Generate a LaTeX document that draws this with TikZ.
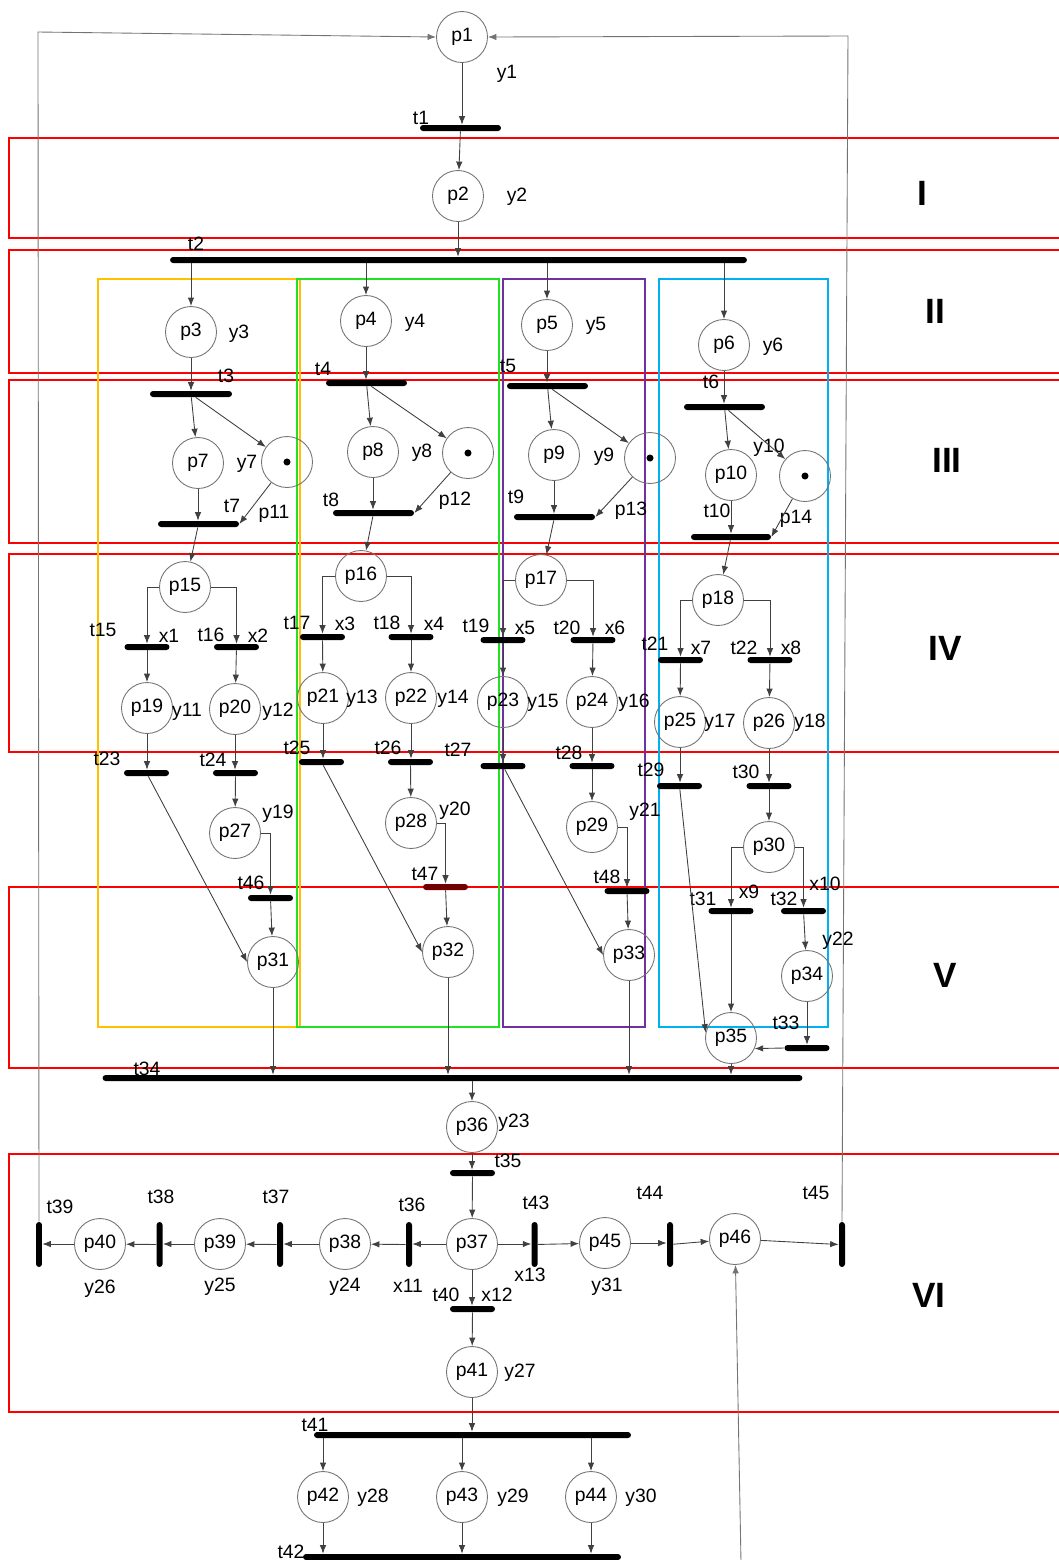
\documentclass[tikz,border=0pt]{standalone}
\usepackage{fontspec}
\setmainfont{Liberation Sans}
\usepackage{tikz}
\usetikzlibrary{arrows.meta}
\definecolor{grporange}{HTML}{FFC000}
\definecolor{grpgreen}{HTML}{22E022}
\definecolor{grppurple}{HTML}{7030A0}
\definecolor{grpblue}{HTML}{00B0F0}
\tikzset{
  place/.style={circle, draw=black!55, line width=0.5pt, minimum size=1.02cm, inner sep=0pt},
  trans/.style={fill=black, inner sep=0pt, rounded corners=0.06cm, minimum height=0.12cm, minimum width=0.9cm},
  vtrans/.style={fill=black, inner sep=0pt, rounded corners=0.06cm, minimum width=0.12cm, minimum height=0.9cm},
  arc/.style={draw=black!75, line width=0.5pt, -{Latex[length=1.7mm,width=1.3mm]}},
  band/.style={draw=red, line width=1.1pt},
  grp/.style={line width=1.1pt},
  sect/.style={font=\fontsize{20}{24}\selectfont\bfseries},
}
\begin{document}
\begin{tikzpicture}[x=0.02cm, y=-0.02cm, font=\fontsize{11}{13}\selectfont]
        \useasboundingbox (0,0) rectangle (1059,1560);
        \clip (0,0) rectangle (1059,1560);
        % sections
        \draw[band] (9,138) rectangle (1075,238);
        \draw[band] (9,250) rectangle (1075,373);
        \draw[band] (9,380) rectangle (1075,543);
        \draw[band] (9,554) rectangle (1075,752);
        \draw[band] (9,887) rectangle (1075,1068);
        \draw[band] (9,1154) rectangle (1075,1412);
        \node[sect] (s1) at (922,193) {I};
        \node[sect] (s2) at (935,311) {II};
        \node[sect] (s3) at (947,460) {III};
        \node[sect] (s4) at (945,648) {IV};
        \node[sect] (s5) at (945,975) {V};
        \node[sect] (s6) at (929,1295) {VI};
        % groups
        \draw[grp, draw=grporange] (98,279) rectangle (300,1027);
        \draw[grp, draw=grpgreen] (297,279) rectangle (499,1027);
        \draw[grp, draw=grppurple] (503,279) rectangle (645,1027);
        \draw[grp, draw=grpblue] (659,279) rectangle (828,1027);
        % places
        \node[place] (p1) at (462,37) {p1};
        \node[place] (p2) at (458,196) {p2};
        \node[place] (p3) at (191,332) {p3};
        \node[place] (p4) at (366,321) {p4};
        \node[place] (p5) at (547,325) {p5};
        \node[place] (p6) at (724,345) {p6};
        \node[place] (p7) at (198,463) {p7};
        \node[place] (p8) at (373,452) {p8};
        \node[place] (p9) at (554,455) {p9};
        \node[place] (p10) at (731,475) {p10};
        \node[place] (p11) at (287,462) {};
        \node[place] (p12) at (468,453) {};
        \node[place] (p13) at (650,458) {};
        \node[place] (p14) at (805,476) {};
        \fill (p11.center) circle (2pt);
        \fill (p12.center) circle (2pt);
        \fill (p13.center) circle (2pt);
        \fill (p14.center) circle (2pt);
        \node[place] (p15) at (185,587) {p15};
        \node[place] (p16) at (361,576) {p16};
        \node[place] (p17) at (541,580) {p17};
        \node[place] (p18) at (718,600) {p18};
        \node[place] (p19) at (147,708) {p19};
        \node[place] (p20) at (235,709) {p20};
        \node[place] (p21) at (323,698) {p21};
        \node[place] (p22) at (411,698) {p22};
        \node[place] (p23) at (503,702) {p23};
        \node[place] (p24) at (592,702) {p24};
        \node[place] (p25) at (680,722) {p25};
        \node[place] (p26) at (769,723) {p26};
        \node[place] (p27) at (235,833) {p27};
        \node[place] (p28) at (411,823) {p28};
        \node[place] (p29) at (592,827) {p29};
        \node[place] (p30) at (769,847) {p30};
        \node[place] (p31) at (273,962) {p31};
        \node[place] (p32) at (448,952) {p32};
        \node[place] (p33) at (629,955) {p33};
        \node[place] (p34) at (807,976) {p34};
        \node[place] (p35) at (731,1038) {p35};
        \node[place] (p36) at (472,1127) {p36};
        \node[place] (p37) at (472,1244) {p37};
        \node[place] (p38) at (345,1244) {p38};
        \node[place] (p39) at (220,1244) {p39};
        \node[place] (p40) at (100,1244) {p40};
        \node[place] (p41) at (472,1372) {p41};
        \node[place] (p42) at (323,1497) {p42};
        \node[place] (p43) at (462,1497) {p43};
        \node[place] (p44) at (591,1497) {p44};
        \node[place] (p45) at (605,1243) {p45};
        \node[place] (p46) at (735,1239) {p46};
        % transitions
        \node[trans, minimum width=1.62cm] (t1) at (460.5,128) {};
        \node[trans, minimum width=11.54cm] (t2) at (458.5,260) {};
        \node[trans, minimum width=1.64cm] (t3) at (191,394) {};
        \node[trans, minimum width=1.62cm] (t4) at (366.5,383) {};
        \node[trans, minimum width=1.62cm] (t5) at (547.5,386) {};
        \node[trans, minimum width=1.62cm] (t6) at (724.5,407) {};
        \node[trans, minimum width=1.62cm] (t7) at (198.5,524) {};
        \node[trans, minimum width=1.62cm] (t8) at (373.5,513) {};
        \node[trans, minimum width=1.62cm] (t9) at (554.5,517) {};
        \node[trans, minimum width=1.6cm] (t10) at (731,537) {};
        \node[trans] (t15) at (147,647) {};
        \node[trans] (t16) at (236.5,647) {};
        \node[trans] (t17) at (322.5,637) {};
        \node[trans] (t18) at (411,637) {};
        \node[trans] (t19) at (503,640) {};
        \node[trans] (t20) at (593,640) {};
        \node[trans] (t21) at (680.5,660) {};
        \node[trans] (t22) at (770,660) {};
        \node[trans] (t23) at (146.5,773) {};
        \node[trans] (t24) at (235.5,773) {};
        \node[trans] (t25) at (321.5,762) {};
        \node[trans] (t26) at (410.5,762) {};
        \node[trans] (t27) at (503,766) {};
        \node[trans] (t28) at (592,766) {};
        \node[trans] (t29) at (679.5,786) {};
        \node[trans] (t30) at (769,786) {};
        \node[trans] (t31) at (731,911) {};
        \node[trans] (t32) at (803.5,911) {};
        \node[trans] (t33) at (807,1048) {};
        \node[trans, minimum width=14cm] (t34) at (452.5,1078) {};
        \node[trans] (t35) at (472.5,1173) {};
        \node[vtrans] (t36) at (409,1244.5) {};
        \node[vtrans] (t37) at (280,1244.5) {};
        \node[vtrans] (t38) at (159.6,1244.5) {};
        \node[vtrans] (t39) at (39,1244.5) {};
        \node[trans] (t40) at (472.5,1309) {};
        \node[trans, minimum width=6.34cm] (t41) at (472.5,1435) {};
        \node[trans, minimum width=6.36cm] (t42) at (462,1557) {};
        \node[vtrans] (t43) at (534.6,1244.5) {};
        \node[vtrans] (t44) at (670,1244.5) {};
        \node[vtrans] (t45) at (842,1244.5) {};
        \node[trans] (t46) at (270.5,898) {};
        \node[trans, fill=red!45!black] (t47) at (445.5,887) {};
        \node[trans] (t48) at (627,891) {};
        % labels
        \node (lt1) at (421,118) {t1};
        \node (lt2) at (196,244) {t2};
        \node (lt3) at (226,376) {t3};
        \node (lt4) at (323,369) {t4};
        \node (lt5) at (508,366) {t5};
        \node (lt6) at (711,382) {t6};
        \node (lt7) at (232,506) {t7};
        \node (lt8) at (331,500) {t8};
        \node (lt9) at (516,497) {t9};
        \node (lt10) at (717,511) {t10};
        \node (lt15) at (103,630) {t15};
        \node (lt16) at (211,635) {t16};
        \node (lt17) at (297,623) {t17};
        \node (lt18) at (387,623) {t18};
        \node (lt19) at (476,626) {t19};
        \node (lt20) at (567,628) {t20};
        \node (lt21) at (655,644) {t21};
        \node (lt22) at (744,648) {t22};
        \node (lt23) at (107,759) {t23};
        \node (lt24) at (213,760) {t24};
        \node (lt25) at (297,748) {t25};
        \node (lt26) at (388,748) {t26};
        \node (lt27) at (458,750) {t27};
        \node (lt28) at (569,753) {t28};
        \node (lt29) at (651,770) {t29};
        \node (lt30) at (746,772) {t30};
        \node (lt31) at (703,899) {t31};
        \node (lt32) at (784,899) {t32};
        \node (lt33) at (786,1023) {t33};
        \node (lt34) at (147,1069) {t34};
        \node (lt35) at (508,1161) {t35};
        \node (lt36) at (412,1205) {t36};
        \node (lt37) at (276,1197) {t37};
        \node (lt38) at (161,1197) {t38};
        \node (lt39) at (60,1207) {t39};
        \node (lt40) at (446,1295) {t40};
        \node (lt41) at (315,1425) {t41};
        \node (lt42) at (291,1552) {t42};
        \node (lt43) at (536,1203) {t43};
        \node (lt44) at (650,1193) {t44};
        \node (lt45) at (816,1193) {t45};
        \node (lt46) at (251,883) {t46};
        \node (lt47) at (425,874) {t47};
        \node (lt48) at (607,877) {t48};
        \node (lp11) at (274,514) {p11};
        \node (lp12) at (455,501) {p12};
        \node (lp13) at (631,511) {p13};
        \node (lp14) at (796,519) {p14};
        \node (y1) at (507,74) {y1};
        \node (y2) at (517,197) {y2};
        \node (y3) at (239,334) {y3};
        \node (y4) at (415,323) {y4};
        \node (y5) at (596,326) {y5};
        \node (y6) at (773,347) {y6};
        \node (y7) at (247,464) {y7};
        \node (y8) at (422,453) {y8};
        \node (y9) at (604,457) {y9};
        \node (y10) at (769,448) {y10};
        \node (y11) at (187,712) {y11};
        \node (y12) at (278,712) {y12};
        \node (y13) at (362,699) {y13};
        \node (y14) at (453,699) {y14};
        \node (y15) at (543,703) {y15};
        \node (y16) at (634,703) {y16};
        \node (y17) at (720,723) {y17};
        \node (y18) at (810,723) {y18};
        \node (y19) at (278,814) {y19};
        \node (y20) at (455,811) {y20};
        \node (y21) at (645,812) {y21};
        \node (y22) at (838,941) {y22};
        \node (y23) at (514,1123) {y23};
        \node (y24) at (345,1287) {y24};
        \node (y25) at (220,1287) {y25};
        \node (y26) at (100,1289) {y26};
        \node (y27) at (520,1373) {y27};
        \node (y28) at (373,1498) {y28};
        \node (y29) at (513,1498) {y29};
        \node (y30) at (641,1498) {y30};
        \node (y31) at (607,1287) {y31};
        \node (x1) at (169,636) {x1};
        \node (x2) at (258,636) {x2};
        \node (x3) at (345,624) {x3};
        \node (x4) at (434,624) {x4};
        \node (x5) at (525,628) {x5};
        \node (x6) at (615,628) {x6};
        \node (x7) at (701,648) {x7};
        \node (x8) at (791,648) {x8};
        \node (x9) at (749,892) {x9};
        \node (x10) at (825,884) {x10};
        \node (x11) at (408,1286) {x11};
        \node (x12) at (497,1295) {x12};
        \node (x13) at (530,1275) {x13};
        % arcs
        \draw[arc] (p1) -- (p1 |- t1.north);
        \draw[arc] (t1) -- (p2);
        \draw[arc] (p2) -- (p2 |- t2.north);
        \draw[arc] (p3 |- t2.south) -- (p3);
        \draw[arc] (p4 |- t2.south) -- (p4);
        \draw[arc] (p5 |- t2.south) -- (p5);
        \draw[arc] (p6 |- t2.south) -- (p6);
        \draw[arc] (p3) -- (p3 |- t3.north);
        \draw[arc] (t3) -- (p7);
        \draw[arc] (t3) -- (p11);
        \draw[arc] (p7) -- (p7 |- t7.north);
        \draw[arc] (p11) -- (t7.east);
        \draw[arc] (t7) -- (p15);
        \draw[arc] (p4) -- (p4 |- t4.north);
        \draw[arc] (t4) -- (p8);
        \draw[arc] (t4) -- (p12);
        \draw[arc] (p8) -- (p8 |- t8.north);
        \draw[arc] (p12) -- (t8.east);
        \draw[arc] (t8) -- (p16);
        \draw[arc] (p5) -- (p5 |- t5.north);
        \draw[arc] (t5) -- (p9);
        \draw[arc] (t5) -- (p13);
        \draw[arc] (p9) -- (p9 |- t9.north);
        \draw[arc] (p13) -- (t9.east);
        \draw[arc] (t9) -- (p17);
        \draw[arc] (p6) -- (p6 |- t6.north);
        \draw[arc] (t6) -- (p10);
        \draw[arc] (t6) -- (p14);
        \draw[arc] (p10) -- (p10 |- t10.north);
        \draw[arc] (p14) -- (t10.east);
        \draw[arc] (t10) -- (p18);
        \draw[arc] (p15.west) -| (t15.north);
        \draw[arc] (p15.east) -| (t16.north);
        \draw[arc] (t15) -- (p19);
        \draw[arc] (t16) -- (p20);
        \draw[arc] (p19) -- (p19 |- t23.north);
        \draw[arc] (p20) -- (p20 |- t24.north);
        \draw[arc] (t24) -- (p27);
        \draw[arc] (p27.east) -| (t46.north);
        \draw[arc] (t46) -- (p31);
        \draw[arc] (t23) -- (p31.west);
        \draw[arc] (p16.west) -| (t17.north);
        \draw[arc] (p16.east) -| (t18.north);
        \draw[arc] (t17) -- (p21);
        \draw[arc] (t18) -- (p22);
        \draw[arc] (p21) -- (p21 |- t25.north);
        \draw[arc] (p22) -- (p22 |- t26.north);
        \draw[arc] (t26) -- (p28);
        \draw[arc] (p28.east) -| (t47.north);
        \draw[arc] (t47) -- (p32);
        \draw[arc] (t25) -- (p32.west);
        \draw[arc] (p17.west) -| (t19.north);
        \draw[arc] (p17.east) -| (t20.north);
        \draw[arc] (t19) -- (p23);
        \draw[arc] (t20) -- (p24);
        \draw[arc] (p23) -- (p23 |- t27.north);
        \draw[arc] (p24) -- (p24 |- t28.north);
        \draw[arc] (t28) -- (p29);
        \draw[arc] (p29.east) -| (t48.north);
        \draw[arc] (t48) -- (p33);
        \draw[arc] (t27) -- (p33.west);
        \draw[arc] (p18.west) -| (t21.north);
        \draw[arc] (p18.east) -| (t22.north);
        \draw[arc] (t21) -- (p25);
        \draw[arc] (t22) -- (p26);
        \draw[arc] (p25) -- (p25 |- t29.north);
        \draw[arc] (p26) -- (p26 |- t30.north);
        \draw[arc] (t30) -- (p30);
        \draw[arc] (p30.west) -| (t31.north);
        \draw[arc] (p30.east) -| (t32.north);
        \draw[arc] (t31) -- (p35);
        \draw[arc] (t32) -- (p34);
        \draw[arc] (p34) -- (p34 |- t33.north);
        \draw[arc] (t33.west) -- (p35.-24);
        \draw[arc] (t29) -- (p35.168);
        \draw[arc] (p31) -- (p31 |- t34.north);
        \draw[arc] (p32) -- (p32 |- t34.north);
        \draw[arc] (p33) -- (p33 |- t34.north);
        \draw[arc] (p35) -- (p35 |- t34.north);
        \draw[arc] (p36 |- t34.south) -- (p36);
        \draw[arc] (p36) -- (p36 |- t35.north);
        \draw[arc] (t35) -- (p37);
        \draw[arc] (p37) -- (p37 -| t36.east);
        \draw[arc] (t36) -- (p38);
        \draw[arc] (p38) -- (p38 -| t37.east);
        \draw[arc] (t37) -- (p39);
        \draw[arc] (p39) -- (p39 -| t38.east);
        \draw[arc] (t38) -- (p40);
        \draw[arc] (p40) -- (p40 -| t39.east);
        \draw[arc] (p37) -- (p37 |- t40.north);
        \draw[arc] (t40) -- (p41);
        \draw[arc] (p41) -- (p41 |- t41.north);
        \draw[arc] (p42 |- t41.south) -- (p42);
        \draw[arc] (p43 |- t41.south) -- (p43);
        \draw[arc] (p44 |- t41.south) -- (p44);
        \draw[arc] (p42) -- (p42 |- t42.north);
        \draw[arc] (p43) -- (p43 |- t42.north);
        \draw[arc] (p44) -- (p44 |- t42.north);
        \draw[arc] (p37) -- (p37 -| t43.west);
        \draw[arc] (t43) -- (p45);
        \draw[arc] (p45) -- (p45 -| t44.west);
        \draw[arc] (t44) -- (p46);
        \draw[arc] (p46) -- (t45.west);
        % loops back to p1
        \coordinate (lefttop) at (38,32);
        \coordinate (righttop) at (848,36);
        \coordinate (p46in) at (741,1562);
        \draw[arc, draw=black!55] (t39.north) -- (lefttop) -- (p1.west);
        \draw[arc, draw=black!55] (t45.north) -- (righttop) -- (p1.east);
        \draw[arc, draw=black!55] (p46in) -- (p46);
\end{tikzpicture}
\end{document}
